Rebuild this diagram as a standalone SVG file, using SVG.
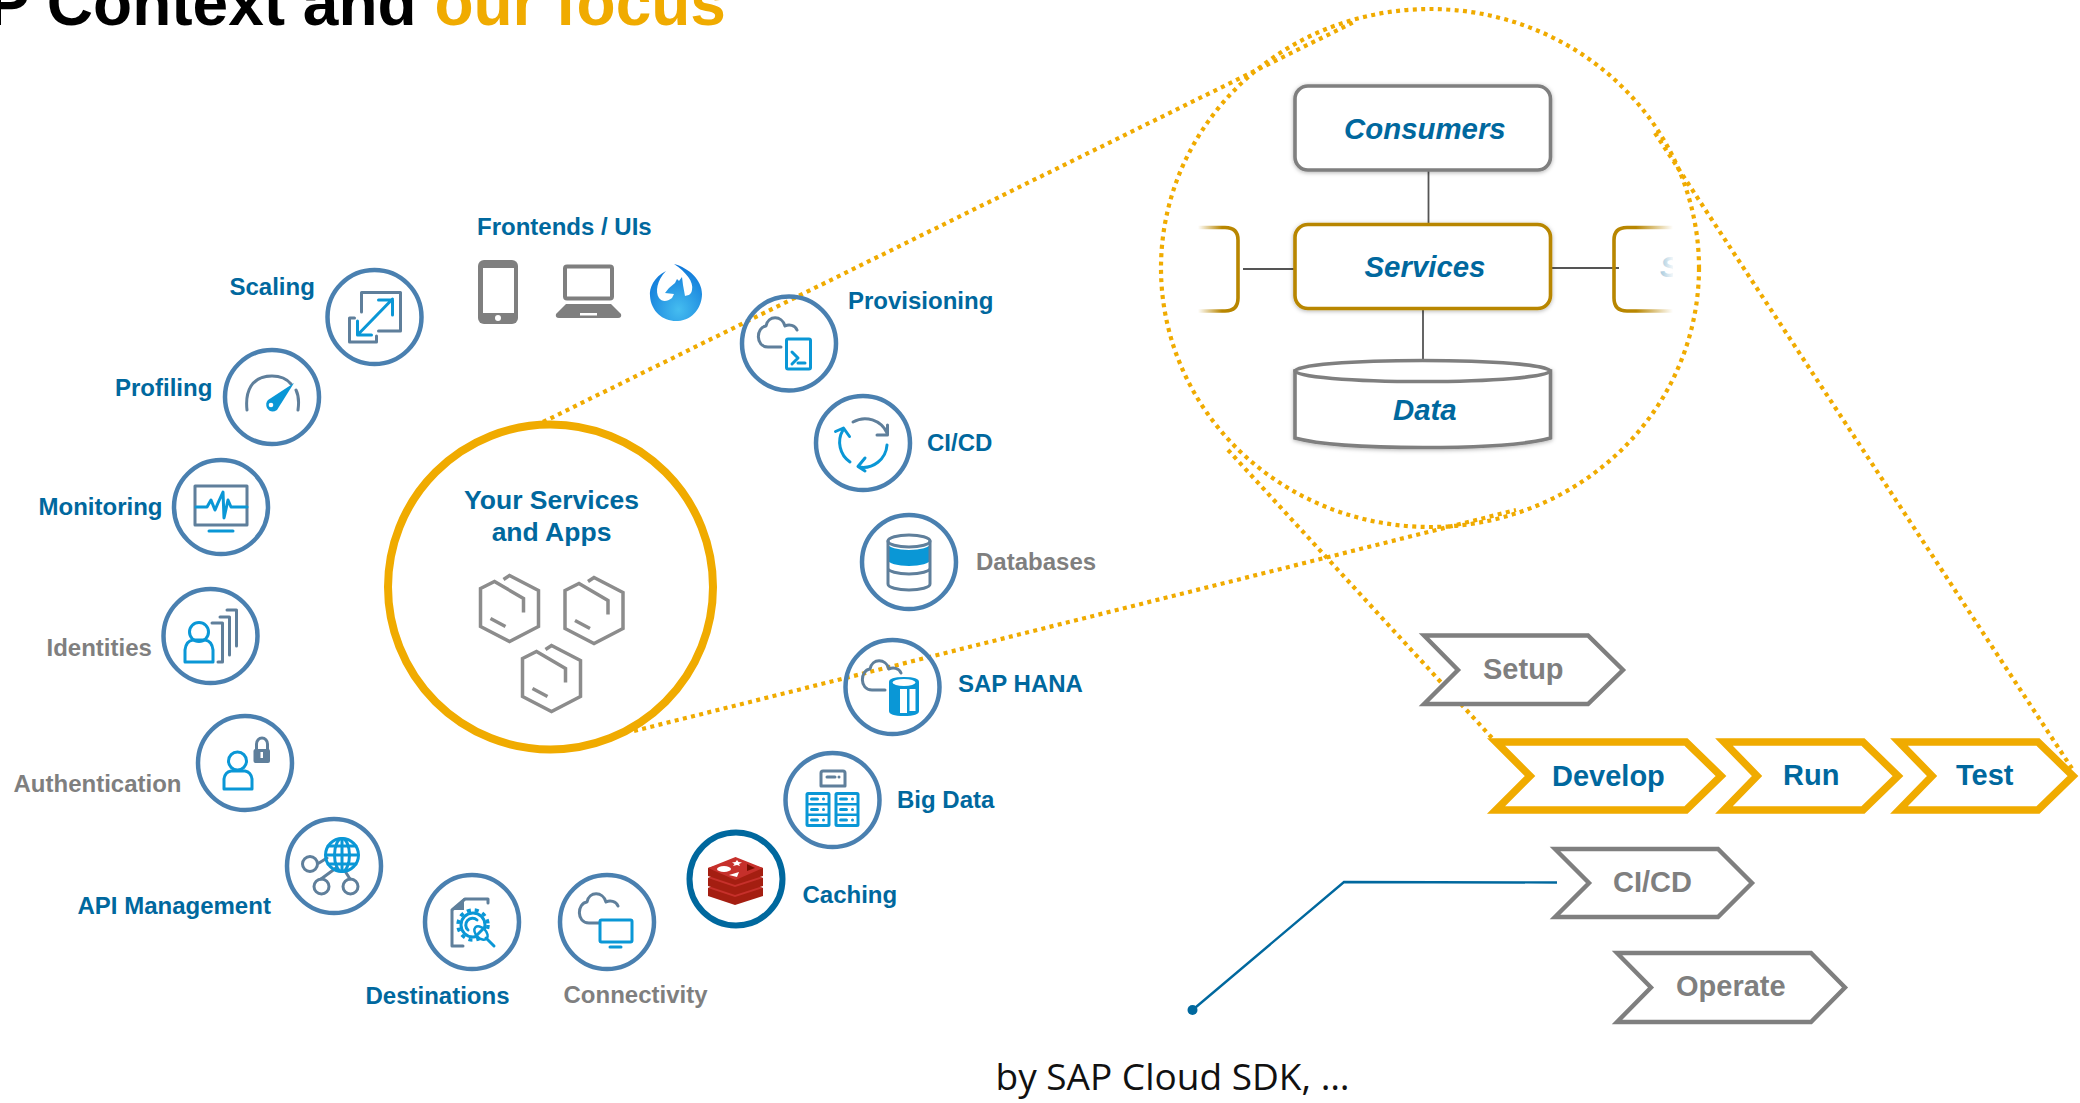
<svg xmlns="http://www.w3.org/2000/svg" width="2080" height="1103" viewBox="0 0 2080 1103">
<style>
text{font-family:"Liberation Sans",Arial,sans-serif;font-weight:700}
.lb{fill:#00689e;font-size:24px}
.lg{fill:#7f7f7f;font-size:24px}
.ring{fill:none;stroke:#4a80b0;stroke-width:4.5}
.dot{fill:none;stroke:#f0ab00;stroke-width:4.2;stroke-dasharray:4 4.4}
.ig{fill:none;stroke:#5f7f9b;stroke-width:3;stroke-linejoin:round;stroke-linecap:round}
.ib{fill:none;stroke:#0a97d6;stroke-width:3;stroke-linejoin:round;stroke-linecap:round}
.fb{fill:#0a97d6}
.fg{fill:#5f7f9b}
.hex{fill:none;stroke:#8c8c8c;stroke-width:3.5}
.chg{fill:#fff;stroke:#7f7f7f;stroke-width:4.4}
.chy{fill:none;stroke:#f0ab00;stroke-width:7.5}
.cht{font-size:29px}
.box{fill:#fff;stroke-width:3.6;filter:url(#sh)}
.bt{font-size:29.4px;font-style:italic;fill:#00689e}
.cn{stroke:#555;stroke-width:1.8;fill:none}
.mono{fill:#7f7f7f}
</style>
<defs>
<filter id="sh" x="-10%" y="-20%" width="120%" height="140%"><feDropShadow dx="0" dy="1" stdDeviation="2.2" flood-color="#000" flood-opacity="0.3"/></filter>
<radialGradient id="phx" cx="0.55" cy="0.8" r="0.8"><stop offset="0" stop-color="#45bdf0"/><stop offset="1" stop-color="#0c74d8"/></radialGradient>
<linearGradient id="fl" gradientUnits="userSpaceOnUse" x1="1198" y1="0" x2="1222" y2="0"><stop offset="0" stop-color="#b88600" stop-opacity="0"/><stop offset="1" stop-color="#b88600"/></linearGradient>
<linearGradient id="fr" gradientUnits="userSpaceOnUse" x1="1673" y1="0" x2="1636" y2="0"><stop offset="0" stop-color="#b88600" stop-opacity="0"/><stop offset="1" stop-color="#b88600"/></linearGradient>
<linearGradient id="fs" gradientUnits="userSpaceOnUse" x1="1673" y1="0" x2="1658" y2="0"><stop offset="0" stop-color="#00689e" stop-opacity="0.05"/><stop offset="1" stop-color="#00689e" stop-opacity="0.4"/></linearGradient>
<clipPath id="sc"><rect x="1650" y="240" width="23" height="60"/></clipPath>
<path id="cloud" class="ig" d="M8,-14 C6,-19 0,-20 -4,-18 C-7,-29 -21,-29 -23,-18 C-33,-17 -34,3 -21,3 L-8,3"/>
<g id="hexa"><path class="hex" d="M-6,-29 L0,-33 L29,-18 V18 L0,33 L-29,18 V-20 L-15,-27 L14,-10 V4"/><path class="hex" stroke-width="4" d="M-19,10 L-4,18"/></g>
<g id="srv"><rect x="0" y="0" width="25" height="35" rx="2.5" class="fb"/><rect x="3" y="3" width="19" height="8" fill="#fff"/><rect x="3" y="13.5" width="19" height="8" fill="#fff"/><rect x="3" y="24" width="19" height="8" fill="#fff"/><path class="ib" stroke-width="1.6" d="M6,7 H12 M6,17.5 H12 M6,28 H12"/><circle cx="18" cy="7" r="1.5" class="fb"/><circle cx="18" cy="17.5" r="1.5" class="fb"/><circle cx="18" cy="28" r="1.5" class="fb"/></g>
<marker id="mdot" markerUnits="userSpaceOnUse" markerWidth="12" markerHeight="12" refX="6" refY="6"><circle cx="6" cy="6" r="5" fill="#00689e"/></marker>
</defs>
<rect width="2080" height="1103" fill="#fff"/>

<text id="title" x="-12.500" y="25" fill="#000" style="font-size:64px">P Context and <tspan fill="#f0ab00">our focus</tspan></text>

<g id="connectors">
<path class="dot" d="M543,422 L1356,21"/>
<path class="dot" d="M634,731 L1516,510"/>
<path class="dot" d="M1228,450 L1493,739"/>
<path class="dot" d="M1655,133 L2073,770"/>
<path class="cn" d="M1428.500,170 V224"/>
<path class="cn" d="M1423,308 V360"/>
<path class="cn" d="M1243,269 H1295"/>
<path class="cn" d="M1551,268 H1619"/>
<path fill="none" stroke="#00689e" stroke-width="2.400" marker-start="url(#mdot)" d="M1192.500,1010 L1344,882 L1557,882.500"/>
</g>

<g id="lens"><ellipse cx="1430" cy="268" rx="269" ry="259" class="dot"/></g>

<g id="main-circle">
<circle cx="550.500" cy="587" r="162.500" fill="#fff" stroke="#f0ab00" stroke-width="8"/>
<text class="lb" style="font-size:26.500px" x="551.500" y="509" text-anchor="middle">Your Services</text>
<text class="lb" style="font-size:26.500px" x="551.500" y="541" text-anchor="middle">and Apps</text>
<use href="#hexa" transform="translate(509.500,608.500)"/>
<use href="#hexa" transform="translate(594,610.500)"/>
<use href="#hexa" transform="translate(551.500,678.500)"/>
</g>

<g id="frontends">
<text class="lb" x="477" y="235">Frontends / UIs</text>
<rect x="478" y="260" width="40" height="64" rx="6" class="mono"/><rect x="483" y="268" width="31" height="45" fill="#fff"/><circle cx="498" cy="318" r="3" fill="#fff"/>
<rect x="565" y="266.500" width="47" height="32" rx="2" fill="none" stroke="#7f7f7f" stroke-width="4"/><path class="mono" d="M566,304 H611 L621,314 Q622,318 618,318 H559 Q555,318 556,314 Z"/><rect x="580" y="313" width="17" height="2.500" fill="#fff"/>
<path fill="url(#phx)" transform="translate(-3,0)" d="M669,271 C657,277 652,288 653,296 C654,312 667,322 681,321 C696,320 705,307 705,294 C705,280 692,268 677,264 C689,272 697,282 695,290 C694,296 690,295 688,296 L686,285 L685,277 L682,281 L680,279 L678,283 L672,288 L668,293 L677,294 L675,298 C670,302 665,302 662,298 C658,292 660,280 669,271Z"/>
</g>

<g id="scaling">
<text class="lb" x="229.500" y="295">Scaling</text>
<circle class="ring" cx="374.500" cy="317" r="47"/>
<path class="ig" d="M361.500,312 V292.500 H400.500 V331 H378.500"/>
<path class="ig" d="M354.500,318 H349.500 V342 H376.500 V336"/>
<path class="ib" d="M357.500,335 L392.500,299 M378.500,300 H392.500 V315 M357.500,321 V335 H371.500"/>
</g>
<g id="profiling">
<text class="lb" x="115" y="396">Profiling</text>
<circle class="ring" cx="272" cy="397" r="47"/>
<path class="ig" stroke-width="6" transform="translate(-1,0)" d="M248,410 C246,392 252,376 273,376 C282,376 288,379 292,384 M297,390 C300,396 300,403 299,410"/>
<path class="fb" transform="translate(-1,0)" d="M295,383 L278,410 Q272,414 268,408 Q266,403 269,400Z"/><circle cx="271" cy="405" r="2.300" fill="#fff"/>
</g>
<g id="monitoring">
<text class="lb" x="38.500" y="515">Monitoring</text>
<circle class="ring" cx="221" cy="507" r="47"/>
<rect class="ig" x="195" y="486" width="52" height="39"/>
<path class="ib" stroke-width="2" d="M196,507 H207 L211,500 L215,510 L218,503 L223,492 L224,518 L228,500 L231,507 H247"/>
<path class="ib" d="M209,531 H233"/>
</g>
<g id="identities">
<text class="lg" x="46.500" y="656">Identities</text>
<circle class="ring" cx="210.500" cy="636" r="47"/>
<path class="ig" d="M227,610 H236.500 V646 M220,617 H229.500 V655 M212,623 H222.500 V662 H218"/>
<circle class="ib" cx="199" cy="632" r="9.500"/>
<path class="ib" d="M185,662 V650 Q186,641 193,640 H205 Q212,641 213,650 V662 Z"/>
</g>
<g id="authentication">
<text class="lg" x="13.500" y="792">Authentication</text>
<circle class="ring" cx="245" cy="763" r="47"/>
<circle class="ib" cx="237.500" cy="761" r="9"/>
<path class="ib" d="M224,789 V779 Q225,772 231,771 H245 Q251,772 252,779 V789 Z"/>
<path class="ig" d="M256.500,750 V744 A5.500,6 0 0 1 267.500,744 V750"/>
<rect class="fg" x="253.500" y="749" width="16.500" height="14" rx="2"/><rect x="260.500" y="752" width="2.500" height="6" fill="#fff"/>
</g>
<g id="api-management">
<text class="lb" x="77.500" y="914">API Management</text>
<circle class="ring" cx="334" cy="866" r="47"/>
<path class="ig" d="M319,863 L327,858 M321,879 L336,868 M350,879 L345,871"/>
<circle class="ig" cx="310" cy="864" r="7.500"/><circle class="ig" cx="321.500" cy="886.500" r="7.500"/><circle class="ig" cx="350.500" cy="886.500" r="7.500"/>
<circle class="ib" cx="342" cy="855" r="16.500"/>
<ellipse class="ib" stroke-width="2" cx="342" cy="855" rx="7.500" ry="16.500"/>
<path class="ib" stroke-width="2" d="M342,838.500 V871.500 M326,855 H358 M328,846 H356 M328,864 H356"/>
</g>
<g id="destinations">
<text class="lb" x="365.500" y="1004">Destinations</text>
<circle class="ring" cx="472" cy="922" r="47"/>
<path class="ig" d="M488,903 V899 H465 L452,910 V946 H463"/>
<path class="fg" d="M464,898 L451,910 H464Z"/>
<circle cx="473" cy="925" r="12" fill="#fff" stroke="#0a97d6" stroke-width="3"/>
<circle cx="473" cy="925" r="15" fill="none" stroke="#0a97d6" stroke-width="3.500" stroke-dasharray="4 4"/>
<path class="ib" stroke-width="2" d="M468,930 A6.500,6.500 0 0 1 477,920"/>
<ellipse cx="481" cy="933" rx="8" ry="5" transform="rotate(45 481 933)" fill="#fff" stroke="#0a97d6" stroke-width="2.500"/>
<path class="ib" stroke-width="2.500" d="M486,938 L494,946 M476,936 L484,928"/>
</g>
<g id="connectivity">
<text class="lg" x="563.500" y="1003">Connectivity</text>
<circle class="ring" cx="607" cy="922" r="47"/>
<use href="#cloud" transform="translate(610,920)"/>
<rect class="ib" x="600" y="920" width="32" height="22" rx="1.500" style="fill:#fff"/>
<path class="ib" d="M610,947 H621"/>
</g>
<g id="provisioning">
<text class="lb" x="848" y="309">Provisioning</text>
<circle class="ring" cx="789" cy="343.500" r="47"/>
<use href="#cloud" transform="translate(789,344)"/>
<rect class="ib" x="786.500" y="339" width="24" height="30" rx="1.500" style="fill:#fff"/>
<path class="ib" stroke-width="2" d="M792,352 L798,358 L792,364 M798,363 H805"/>
</g>
<g id="cicd">
<text class="lb" x="927" y="451">CI/CD</text>
<circle class="ring" cx="863" cy="443" r="47"/>
<path class="ig" d="M853,422 A24,24 0 0 1 887,433 M877,435 H887.500 V425"/>
<path class="ib" d="M887,445 A24,24 0 0 1 859,467 M865,458 L858,466.500 L865,471"/>
<path class="ib" d="M850,462 A24,24 0 0 1 843,430 M835.500,431.500 L843.500,428 L849.500,436.500"/>
</g>
<g id="databases">
<text class="lg" x="976" y="570">Databases</text>
<circle class="ring" cx="909" cy="562" r="47"/>
<path class="fb" d="M888,544 A21,6 0 0 0 930,544 V560 A21,6 0 0 1 888,560Z"/>
<path class="ig" stroke-width="3.500" d="M888,541 V584 A21,6 0 0 0 930,584 V541 M888,568 A21,6 0 0 0 930,568"/>
<ellipse class="ig" stroke-width="3.500" cx="909" cy="541" rx="21" ry="6"/>
</g>
<g id="sap-hana">
<text class="lb" x="958" y="692">SAP HANA</text>
<circle class="ring" cx="892.500" cy="687" r="47"/>
<use href="#cloud" transform="translate(893,687)"/>
<path class="fb" d="M889,682 Q889,677 904,677 Q919,677 919,682 V711 Q919,716 904,716 Q889,716 889,711Z"/>
<ellipse cx="904" cy="682.500" rx="11.500" ry="3.500" fill="#fff"/>
<rect x="900" y="689" width="7" height="24" fill="#fff"/><rect x="909.500" y="689" width="6" height="22" fill="#fff"/>
</g>
<g id="big-data">
<text class="lb" x="897" y="808">Big Data</text>
<circle class="ring" cx="832.500" cy="800" r="47"/>
<path class="ig" stroke-width="2.500" d="M821,786 V773 Q821,771 823,771 H843 Q845,771 845,773 V786 M821,786 H845 M827,777 H835"/>
<circle cx="839" cy="777" r="1.500" class="fg"/>
<use href="#srv" transform="translate(805.500,792)"/>
<use href="#srv" transform="translate(834.500,792)"/>
</g>
<g id="caching">
<text class="lb" x="802.500" y="903">Caching</text>
<circle cx="736" cy="879" r="46.500" fill="none" stroke="#00689e" stroke-width="6"/>
<path fill="#a41e11" d="M708,888 V896 L735,905 L763,896 V888 L735,880Z"/>
<path fill="#c6302b" d="M708,888 L735,878 L763,888 L735,897Z"/>
<path fill="#a41e11" d="M708,878 V886 L735,895 L763,886 V878 L735,870Z"/>
<path fill="#c6302b" d="M708,878 L735,868 L763,878 L735,887Z"/>
<path fill="#a41e11" d="M708,868 V876 L735,885 L763,876 V868 L735,860Z"/>
<path fill="#c6302b" d="M708,868 L735.500,857 L763,868 L735.500,880Z"/>
<ellipse cx="724" cy="869" rx="7" ry="3" fill="#fff"/>
<path fill="#fff" d="M737,860 L738.500,862 L742,862.500 L739,864 L740,866 L737,865 L733,866 L734.500,864 L732,862.500 L735.500,862Z"/>
<path fill="#fff" d="M739,872 L737,877 L729,875Z"/>
<path fill="#7a0c00" d="M747,864 L755,868 L747,871Z"/>
</g>

<g id="consumers">
<rect class="box" stroke="#7f7f7f" x="1295" y="86" width="255.500" height="84" rx="13"/>
<text class="bt" x="1344" y="139">Consumers</text>
</g>
<g id="services">
<rect class="box" stroke="#b88600" x="1295" y="224.500" width="255.500" height="84" rx="13"/>
<text class="bt" x="1364.500" y="277">Services</text>
</g>
<g id="services-left">
<path fill="none" stroke="url(#fl)" stroke-width="3.600" d="M1198,227.500 H1225 Q1238,227.500 1238,240 V298 Q1238,311 1225,311 H1198"/>
</g>
<g id="services-right">
<path fill="none" stroke="url(#fr)" stroke-width="3.600" d="M1673,227.500 H1627 Q1614,227.500 1614,240 V298 Q1614,311 1627,311 H1673"/>
<text class="bt" x="1660" y="277" clip-path="url(#sc)" style="fill:url(#fs)">S</text>
</g>
<g id="data">
<path class="box" stroke="#7f7f7f" d="M1295,371 V438 Q1330,447.500 1423,447.500 Q1516,447.500 1550.500,438 V371Z"/>
<ellipse cx="1422.500" cy="371" rx="127.500" ry="10.500" fill="#fff" stroke="#7f7f7f" stroke-width="3.600"/>
<text class="bt" x="1393" y="420">Data</text>
</g>

<g id="setup"><path class="chg" d="M1424,635.500 H1588 L1623,670 L1588,704 H1424 L1458,670Z"/><text class="lg cht" x="1483" y="678.500">Setup</text></g>
<g id="develop"><path class="chy" d="M1496,742 H1686 L1721,776 L1686,810 H1496 L1530,776Z"/><text class="lb cht" x="1552" y="786">Develop</text></g>
<g id="run"><path class="chy" d="M1724,742 H1863 L1898,776 L1863,810 H1724 L1757,776Z"/><text class="lb cht" x="1783" y="785">Run</text></g>
<g id="test"><path class="chy" d="M1899,742 H2038 L2073,776 L2038,810 H1899 L1932,776Z"/><text class="lb cht" x="1956" y="785">Test</text></g>
<g id="ci-cd-step"><path class="chg" d="M1555,849 H1718 L1752,883 L1718,917 H1555 L1589,883Z"/><text class="lg cht" x="1613" y="892">CI/CD</text></g>
<g id="operate"><path class="chg" d="M1617,953 H1811 L1845,987.500 L1811,1022 H1617 L1651,987.500Z"/><text class="lg cht" x="1676" y="996">Operate</text></g>

<text id="caption" x="995.500" y="1090" style="font-family:'Open Sans','Noto Sans',sans-serif;font-weight:400;font-size:37px" fill="#111">by SAP Cloud SDK, …</text>
</svg>
